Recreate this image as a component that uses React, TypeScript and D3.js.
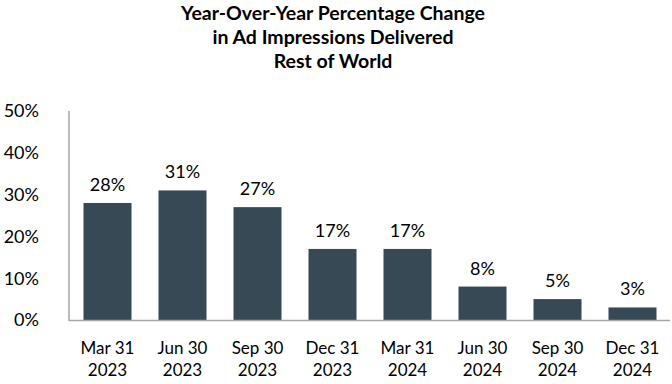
import * as d3 from "d3";
import React from "react";

const quarters = ["Mar 31", "Jun 30", "Sep 30", "Dec 31", "Mar 31", "Jun 30", "Sep 30", "Dec 31"];
const years = ["2023", "2023", "2023", "2023", "2024", "2024", "2024", "2024"];
const changes = [28, 31, 27, 17, 17, 8, 5, 3];
const yTicks = [0, 10, 20, 30, 40, 50];
const titleLines = [
  "Year-Over-Year Percentage Change",
  "in Ad Impressions Delivered",
  "Rest of World",
];

const W = 672;
const H = 384;
const font = "Lato, 'Open Sans', sans-serif";

export default function App() {
  const keys = quarters.map((q, i) => `${q} ${years[i]}`);
  const x = d3.scaleBand<string>().domain(keys).range([70, 670]).paddingInner(0.36).paddingOuter(0.18);
  const y = d3.scaleLinear().domain([0, 50]).range([320, 111]);

  return (
    <svg width={W} height={H} style={{ position: "absolute", left: 0, top: 0, background: "#fff" }}>
      {titleLines.map((t, i) => (
        <text key={i} x={333} y={20 + i * 24} textAnchor="middle" fontFamily={font} fontWeight="bold" fontSize={19.5} fill="#000">
          {t}
        </text>
      ))}
      {yTicks.map((t) => (
        <text key={t} x={39} y={y(t)} dy="0.35em" textAnchor="end" fontFamily={font} fontSize={18} fill="#000">
          {t}%
        </text>
      ))}
      {changes.map((v, i) => (
        <g key={i}>
          <rect x={x(keys[i])!} y={y(v)} width={x.bandwidth()} height={y(0) - y(v)} fill="#364955" />
          <text x={x(keys[i])! + x.bandwidth() / 2} y={y(v) - 12} textAnchor="middle" fontFamily={font} fontSize={18} fill="#000">
            {v}%
          </text>
          <text x={x(keys[i])! + x.bandwidth() / 2} y={354} textAnchor="middle" fontFamily={font} fontSize={17} fill="#000">
            {quarters[i]}
          </text>
          <text x={x(keys[i])! + x.bandwidth() / 2} y={376} textAnchor="middle" fontFamily={font} fontSize={17} fill="#000">
            {years[i]}
          </text>
        </g>
      ))}
      <line x1={69} x2={69} y1={111} y2={321} stroke="#a6a6a6" strokeWidth={1.5} />
      <line x1={69} x2={670} y1={320.5} y2={320.5} stroke="#a6a6a6" strokeWidth={1.5} />
    </svg>
  );
}
